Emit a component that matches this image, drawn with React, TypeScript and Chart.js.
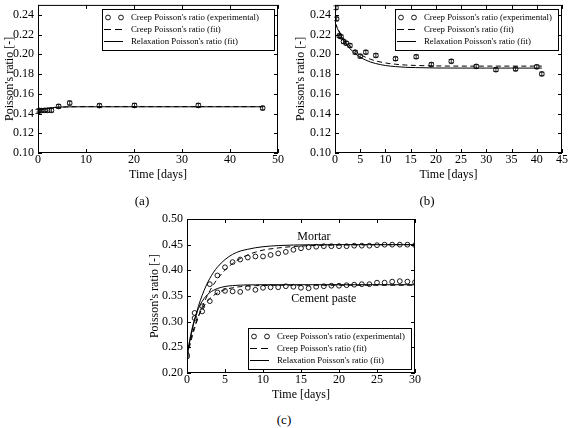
import { useEffect, useRef } from "react";
import { Chart, registerables } from "chart.js";

Chart.register(...registerables);

const SERIF = "'Liberation Serif', 'DejaVu Serif', serif";
Chart.defaults.font.family = SERIF;
Chart.defaults.color = "#000";

const LEGEND_LABELS = [
  "Creep Poisson's ratio (experimental)",
  "Creep Poisson's ratio (fit)",
  "Relaxation Poisson's ratio (fit)",
];
const X_TITLE = "Time [days]";
const Y_TITLE = "Poisson's ratio [-]";

// ---------- Panel (a) ----------
const aExpTime = [0.0, 0.2, 0.7, 1.4, 2.0, 2.8, 4.3, 6.6, 12.8, 20.1, 33.4, 46.8];
const aExpValue = [0.142, 0.1432, 0.143, 0.1432, 0.1432, 0.1432, 0.1472, 0.1506, 0.148, 0.1482, 0.1482, 0.1455];
const aExpError = [0.002, 0.0018, 0.0018, 0.0018, 0.0018, 0.0018, 0.002, 0.002, 0.0018, 0.002, 0.002, 0.0018];
const aFitTime = [0, 0.5, 1, 1.5, 2, 3, 4, 5, 6, 8, 10, 15, 20, 30, 40, 46.8];
const aCreepFit = [0.1432, 0.1436, 0.1441, 0.1446, 0.145, 0.1457, 0.1462, 0.1465, 0.1467, 0.1469, 0.147, 0.147, 0.147, 0.147, 0.147, 0.147];
const aRelaxFit = [0.1432, 0.1438, 0.1444, 0.145, 0.1454, 0.146, 0.1464, 0.1466, 0.1467, 0.1468, 0.1468, 0.1468, 0.1468, 0.1468, 0.1468, 0.1468];
const aXTicks = [0, 10, 20, 30, 40, 50];
const aYTicks = [0.1, 0.12, 0.14, 0.16, 0.18, 0.2, 0.22, 0.24];

// ---------- Panel (b) ----------
const bExpTime = [0.19, 0.32, 0.85, 1.18, 1.7, 2.23, 2.96, 4.0, 5.0, 6.12, 8.1, 12.0, 16.1, 19.1, 23.05, 28.0, 31.9, 35.8, 40.0, 41.0];
const bExpValue = [0.2472, 0.2358, 0.2187, 0.2178, 0.2129, 0.2112, 0.2089, 0.2021, 0.1981, 0.2021, 0.1988, 0.1955, 0.1975, 0.1896, 0.1929, 0.1877, 0.1844, 0.1851, 0.1873, 0.1801];
const bExpError = [0.0018, 0.0018, 0.0018, 0.0018, 0.0018, 0.0018, 0.0018, 0.0018, 0.0018, 0.0018, 0.0018, 0.0018, 0.0018, 0.0018, 0.0018, 0.0018, 0.0018, 0.0018, 0.0018, 0.0018];
const bFitTime = [0, 0.5, 1, 1.5, 2, 3, 4, 5, 6, 7, 8, 10, 12, 14, 16, 20, 25, 30, 35, 41];
const bCreepFit = [0.232, 0.2266, 0.2218, 0.2177, 0.214, 0.208, 0.2034, 0.1998, 0.1971, 0.195, 0.1934, 0.1912, 0.1899, 0.1891, 0.1887, 0.1882, 0.188, 0.188, 0.188, 0.188];
const bRelaxFit = [0.232, 0.2259, 0.2206, 0.2159, 0.212, 0.2055, 0.2007, 0.197, 0.1943, 0.1922, 0.1907, 0.1886, 0.1875, 0.1868, 0.1865, 0.1861, 0.186, 0.186, 0.186, 0.186];
const bXTicks = [0, 5, 10, 15, 20, 25, 30, 35, 40, 45];
const bYTicks = [0.1, 0.12, 0.14, 0.16, 0.18, 0.2, 0.22, 0.24];

// ---------- Panel (c) ----------
const cExpTime = [0, 1, 2, 3, 4, 5, 6, 7, 8, 9, 10, 11, 12, 13, 14, 15, 16, 17, 18, 19, 20, 21, 22, 23, 24, 25, 26, 27, 28, 29, 30];
const cMortarExp = [0.235, 0.307, 0.33, 0.373, 0.39, 0.406, 0.416, 0.421, 0.425, 0.427, 0.427, 0.43, 0.433, 0.436, 0.44, 0.443, 0.445, 0.446, 0.447, 0.447, 0.447, 0.447, 0.448, 0.448, 0.448, 0.449, 0.45, 0.45, 0.45, 0.45, 0.449];
const cPasteExp = [0.232, 0.317, 0.32, 0.34, 0.357, 0.36, 0.359, 0.358, 0.366, 0.362, 0.366, 0.367, 0.367, 0.369, 0.368, 0.366, 0.365, 0.368, 0.369, 0.37, 0.37, 0.371, 0.372, 0.373, 0.373, 0.376, 0.376, 0.378, 0.379, 0.378, 0.377];
const cFitTime = [0, 0.25, 0.5, 0.75, 1, 1.5, 2, 2.5, 3, 3.5, 4, 5, 6, 7, 8, 9, 10, 12, 14, 16, 18, 20, 25, 30];
const cMortarRelax = [0.232, 0.2525, 0.271, 0.288, 0.303, 0.33, 0.3515, 0.3694, 0.3841, 0.3963, 0.4062, 0.421, 0.4311, 0.4375, 0.441, 0.444, 0.446, 0.4482, 0.4493, 0.4497, 0.4499, 0.45, 0.45, 0.45];
const cMortarCreep = [0.232, 0.2466, 0.261, 0.2745, 0.287, 0.3095, 0.329, 0.3455, 0.36, 0.3724, 0.3832, 0.4004, 0.4133, 0.4229, 0.4301, 0.4354, 0.4394, 0.4436, 0.4464, 0.448, 0.4488, 0.4493, 0.4498, 0.45];
const cPasteRelax = [0.232, 0.2555, 0.2751, 0.2913, 0.3049, 0.3255, 0.3398, 0.3497, 0.3566, 0.3613, 0.3646, 0.3685, 0.3703, 0.3712, 0.3716, 0.3718, 0.372, 0.372, 0.372, 0.372, 0.372, 0.372, 0.372, 0.372];
const cPasteCreep = [0.232, 0.2492, 0.2658, 0.2794, 0.2913, 0.3106, 0.3252, 0.3363, 0.3448, 0.3511, 0.356, 0.3624, 0.366, 0.3682, 0.3694, 0.3701, 0.3704, 0.3708, 0.371, 0.371, 0.371, 0.371, 0.371, 0.371];
const cXTicks = [0, 5, 10, 15, 20, 25, 30];
const cYTicks = [0.2, 0.25, 0.3, 0.35, 0.4, 0.45, 0.5];
const cNotes = [
  { text: "Mortar", x: 16.7, y: 0.4655 },
  { text: "Cement paste", x: 18.0, y: 0.344 },
];

type Series = { time: number[]; value: number[]; error?: number[] };
type Spec = {
  left: number; top: number; w: number; h: number;
  plot: { left: number; top: number; right: number; bottom: number };
  xMin: number; xMax: number; yMin: number; yMax: number;
  xTicks: number[]; yTicks: number[];
  exp: Series[];
  creep: Series[];
  relax: Series[];
  yTitlePad: number; xTitlePad: number;
  legend: { w: number; anchor: "top" | "bottom" };
  notes?: { text: string; x: number; y: number }[];
};

const DASH = [5, 3.5];
const MARKER_R = 2.4;

function makeChart(canvas: HTMLCanvasElement, s: Spec) {
  const pts = (xs: number[], ys: number[]) => xs.map((x, i) => ({ x, y: ys[i] }));
  const tickFont = { family: SERIF, size: 12 };
  const datasets: any[] = [];
  s.exp.forEach((e) =>
    datasets.push({
      label: LEGEND_LABELS[0],
      data: pts(e.time, e.value),
      showLine: false,
      pointStyle: "circle",
      pointRadius: MARKER_R,
      pointBorderWidth: 0.9,
      pointBorderColor: "#000",
      pointBackgroundColor: "rgba(0,0,0,0)",
    })
  );
  s.creep.forEach((c) =>
    datasets.push({
      label: LEGEND_LABELS[1],
      data: pts(c.time, c.value),
      showLine: true,
      pointRadius: 0,
      borderColor: "#000",
      borderWidth: 1,
      borderDash: DASH,
      cubicInterpolationMode: "monotone",
    })
  );
  s.relax.forEach((c) =>
    datasets.push({
      label: LEGEND_LABELS[2],
      data: pts(c.time, c.value),
      showLine: true,
      pointRadius: 0,
      borderColor: "#000",
      borderWidth: 1,
      cubicInterpolationMode: "monotone",
    })
  );

  const decor = {
    id: "decor",
    afterDatasetsDraw(chart: any) {
      const ctx = chart.ctx;
      const xs = chart.scales.x;
      const ys = chart.scales.y;
      ctx.save();
      ctx.strokeStyle = "#000";
      ctx.lineWidth = 0.8;
      s.exp.forEach((e) => {
        if (!e.error) return;
        e.time.forEach((t, i) => {
          const px = xs.getPixelForValue(t);
          const yT = ys.getPixelForValue(e.value[i] + e.error![i]);
          const yB = ys.getPixelForValue(e.value[i] - e.error![i]);
          ctx.beginPath();
          ctx.moveTo(px, yT);
          ctx.lineTo(px, yB);
          ctx.moveTo(px - 2.5, yT);
          ctx.lineTo(px + 2.5, yT);
          ctx.moveTo(px - 2.5, yB);
          ctx.lineTo(px + 2.5, yB);
          ctx.stroke();
        });
      });
      ctx.restore();
    },
    afterDraw(chart: any) {
      const ctx = chart.ctx;
      const a = chart.chartArea;
      const xs = chart.scales.x;
      const ys = chart.scales.y;
      ctx.save();
      ctx.strokeStyle = "#000";
      ctx.lineWidth = 1;
      ctx.setLineDash([]);
      // frame
      ctx.strokeRect(a.left + 0.5, a.top + 0.5, a.right - a.left - 1, a.bottom - a.top - 1);
      // inward ticks on four sides
      ctx.beginPath();
      s.xTicks.forEach((v) => {
        const px = Math.round(xs.getPixelForValue(v)) + 0.5;
        ctx.moveTo(px, a.bottom);
        ctx.lineTo(px, a.bottom - 4);
        ctx.moveTo(px, a.top);
        ctx.lineTo(px, a.top + 4);
      });
      s.yTicks.forEach((v) => {
        const py = Math.round(ys.getPixelForValue(v)) + 0.5;
        ctx.moveTo(a.left, py);
        ctx.lineTo(a.left + 4, py);
        ctx.moveTo(a.right, py);
        ctx.lineTo(a.right - 4, py);
      });
      ctx.stroke();

      // notes
      if (s.notes) {
        ctx.fillStyle = "#000";
        ctx.font = `12px ${SERIF}`;
        ctx.textAlign = "center";
        ctx.textBaseline = "middle";
        s.notes.forEach((n) => ctx.fillText(n.text, xs.getPixelForValue(n.x), ys.getPixelForValue(n.y)));
      }

      // legend
      const LW = s.legend.w;
      const LH = 41;
      const bx = Math.round(a.right - 4 - LW);
      const by = s.legend.anchor === "top" ? Math.round(a.top + 4) : Math.round(a.bottom - 4 - LH);
      ctx.fillStyle = "#fff";
      ctx.fillRect(bx, by, LW, LH);
      ctx.strokeRect(bx + 0.5, by + 0.5, LW, LH);
      const rows = [by + 8.5, by + 20.5, by + 32.5];
      ctx.lineWidth = 0.9;
      [bx + 6, bx + 19].forEach((cx) => {
        ctx.beginPath();
        ctx.arc(cx, rows[0], MARKER_R, 0, Math.PI * 2);
        ctx.stroke();
      });
      ctx.lineWidth = 1;
      ctx.setLineDash([7, 4]);
      ctx.beginPath();
      ctx.moveTo(bx + 2, rows[1]);
      ctx.lineTo(bx + 20, rows[1]);
      ctx.stroke();
      ctx.setLineDash([]);
      ctx.beginPath();
      ctx.moveTo(bx + 2, rows[2]);
      ctx.lineTo(bx + 21, rows[2]);
      ctx.stroke();
      ctx.fillStyle = "#000";
      ctx.font = `8.8px ${SERIF}`;
      ctx.textAlign = "left";
      ctx.textBaseline = "middle";
      LEGEND_LABELS.forEach((t, i) => ctx.fillText(t, bx + 29, rows[i]));
      ctx.restore();
    },
  };

  const zeroPad = (sc: any) => {
    sc.paddingLeft = 0;
    sc.paddingRight = 0;
    sc.paddingTop = 0;
    sc.paddingBottom = 0;
  };

  return new Chart(canvas, {
    type: "scatter",
    data: { datasets },
    options: {
      animation: false,
      responsive: false,
      events: [],
      layout: { padding: { left: 0, top: s.plot.top, right: s.w - s.plot.right, bottom: 0 } },
      plugins: { legend: { display: false }, tooltip: { enabled: false } },
      scales: {
        x: {
          type: "linear",
          min: s.xMin,
          max: s.xMax,
          grid: { display: false, drawTicks: false },
          border: { display: false },
          ticks: {
            font: tickFont,
            color: "#000",
            padding: 0,
            maxRotation: 0,
            autoSkip: false,
            callback: (v: any) => String(v),
          },
          afterBuildTicks: (sc: any) => {
            sc.ticks = s.xTicks.map((value) => ({ value }));
          },
          afterFit: (sc: any) => {
            sc.height = s.h - s.plot.bottom;
            zeroPad(sc);
          },
          title: {
            display: true,
            text: X_TITLE,
            font: { family: SERIF, size: 12 },
            color: "#000",
            padding: { top: 0, bottom: s.xTitlePad },
          },
        },
        y: {
          type: "linear",
          min: s.yMin,
          max: s.yMax,
          grid: { display: false, drawTicks: false },
          border: { display: false },
          ticks: {
            font: tickFont,
            color: "#000",
            padding: 4,
            autoSkip: false,
            callback: (v: any) => Number(v).toFixed(2),
          },
          afterBuildTicks: (sc: any) => {
            sc.ticks = s.yTicks.map((value) => ({ value }));
          },
          afterFit: (sc: any) => {
            sc.width = s.plot.left;
            zeroPad(sc);
          },
          title: {
            display: true,
            text: Y_TITLE,
            font: { family: SERIF, size: 12 },
            color: "#000",
            padding: { top: s.yTitlePad, bottom: 0 },
          },
        },
      },
    } as any,
    plugins: [decor],
  });
}

const panelA: Spec = {
  left: 0, top: 0, w: 288, h: 190,
  plot: { left: 38, top: 0, right: 278, bottom: 153 },
  xMin: 0, xMax: 50, yMin: 0.1, yMax: 0.25,
  xTicks: aXTicks, yTicks: aYTicks,
  exp: [{ time: aExpTime, value: aExpValue, error: aExpError }],
  creep: [{ time: aFitTime, value: aCreepFit }],
  relax: [{ time: aFitTime, value: aRelaxFit }],
  yTitlePad: 2.8, xTitlePad: 7.8,
  legend: { w: 172, anchor: "top" },
};

const panelB: Spec = {
  left: 285, top: 0, w: 284, h: 190,
  plot: { left: 50, top: 0, right: 277, bottom: 153 },
  xMin: 0, xMax: 45, yMin: 0.1, yMax: 0.25,
  xTicks: bXTicks, yTicks: bYTicks,
  exp: [{ time: bExpTime, value: bExpValue, error: bExpError }],
  creep: [{ time: bFitTime, value: bCreepFit }],
  relax: [{ time: bFitTime, value: bRelaxFit }],
  yTitlePad: 8.8, xTitlePad: 7.8,
  legend: { w: 163, anchor: "top" },
};

const panelC: Spec = {
  left: 140, top: 205, w: 290, h: 205,
  plot: { left: 47, top: 14, right: 275, bottom: 168 },
  xMin: 0, xMax: 30, yMin: 0.2, yMax: 0.5,
  xTicks: cXTicks, yTicks: cYTicks,
  exp: [
    { time: cExpTime, value: cMortarExp },
    { time: cExpTime, value: cPasteExp },
  ],
  creep: [
    { time: cFitTime, value: cMortarCreep },
    { time: cFitTime, value: cPasteCreep },
  ],
  relax: [
    { time: cFitTime, value: cMortarRelax },
    { time: cFitTime, value: cPasteRelax },
  ],
  yTitlePad: 7.8, xTitlePad: 7.8,
  legend: { w: 163, anchor: "bottom" },
  notes: cNotes,
};

function Panel({ spec }: { spec: Spec }) {
  const ref = useRef<HTMLCanvasElement>(null);
  useEffect(() => {
    const chart = makeChart(ref.current!, spec);
    return () => chart.destroy();
  }, [spec]);
  return (
    <canvas
      ref={ref}
      width={spec.w}
      height={spec.h}
      style={{ position: "absolute", left: spec.left, top: spec.top, width: spec.w, height: spec.h }}
    />
  );
}

const captions = [
  { text: "(a)", x: 142, y: 201 },
  { text: "(b)", x: 427, y: 201 },
  { text: "(c)", x: 284, y: 420 },
];

export default function App() {
  return (
    <div
      style={{
        position: "absolute",
        left: 0,
        top: 0,
        width: 569,
        height: 428,
        background: "#fff",
        overflow: "hidden",
        fontFamily: SERIF,
      }}
    >
      <Panel spec={panelA} />
      <Panel spec={panelB} />
      <Panel spec={panelC} />
      {captions.map((c) => (
        <div
          key={c.text}
          style={{
            position: "absolute",
            left: c.x - 20,
            top: c.y - 8,
            width: 40,
            height: 16,
            textAlign: "center",
            fontSize: 13,
            lineHeight: "16px",
            color: "#000",
            whiteSpace: "nowrap",
          }}
        >
          {c.text}
        </div>
      ))}
    </div>
  );
}
